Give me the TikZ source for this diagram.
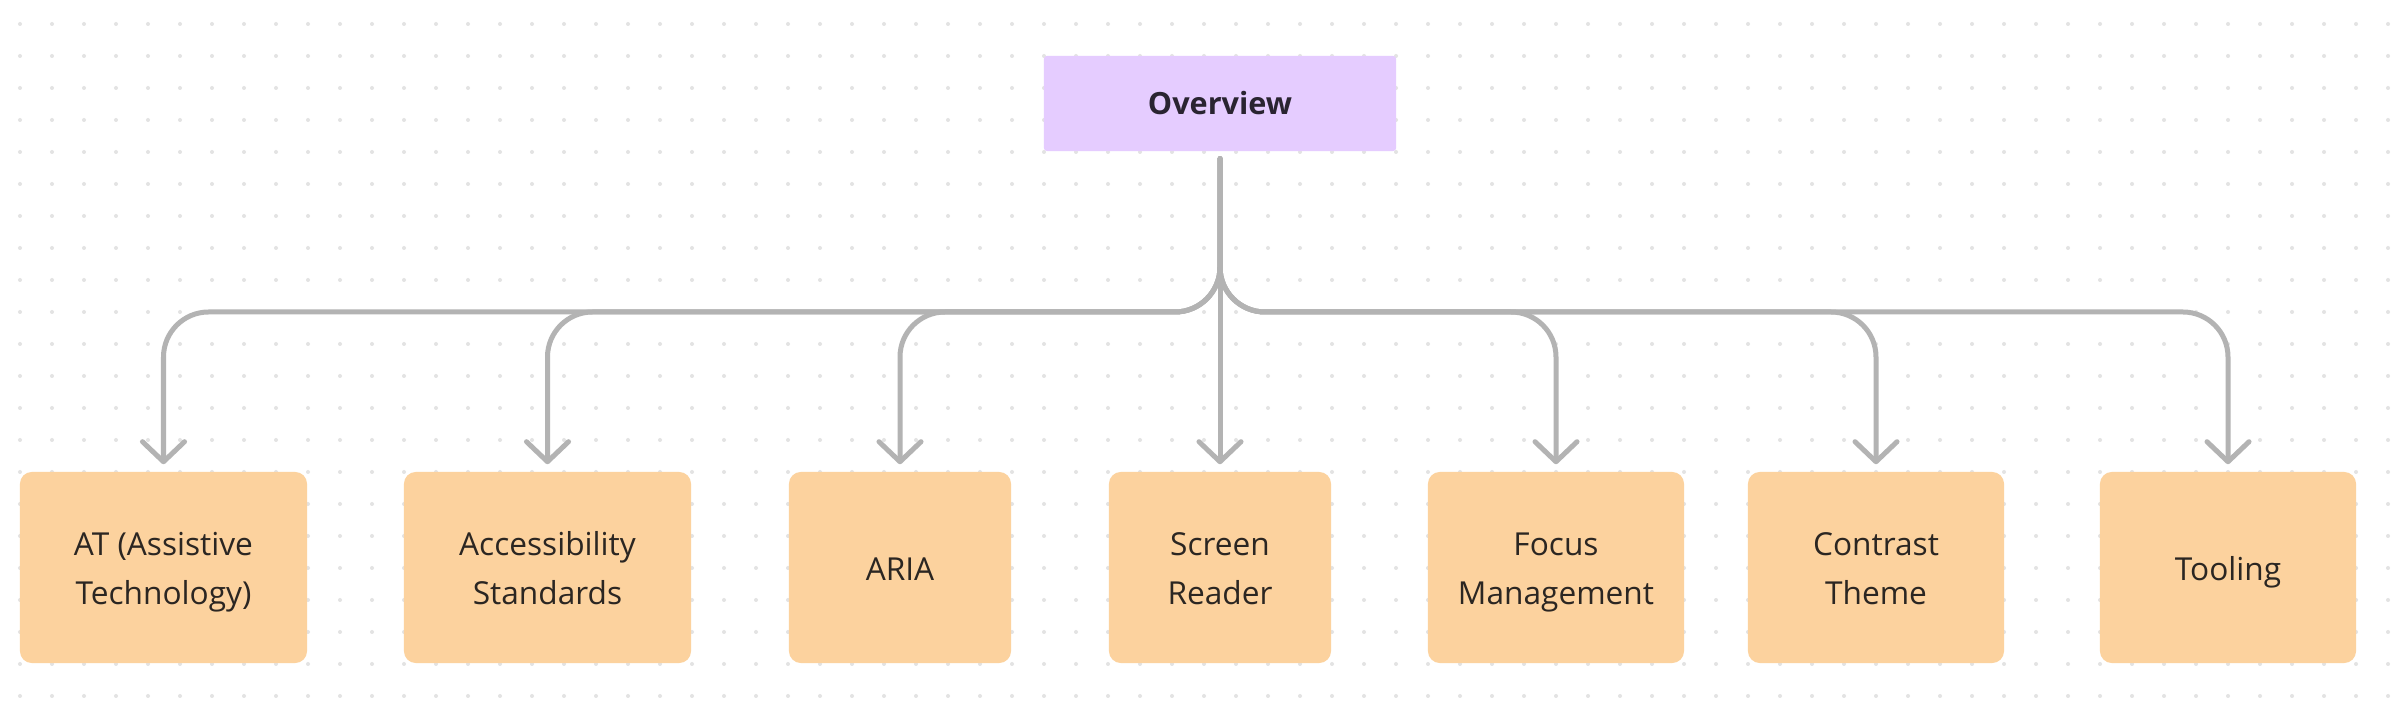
\documentclass[tikz,border=0pt]{standalone}
\usepackage{fontspec}
\setmainfont{Open Sans}
\usetikzlibrary{arrows.meta}
\definecolor{dotc}{HTML}{E3E3E3}
\definecolor{linec}{HTML}{B3B3B3}
\definecolor{boxfill}{HTML}{FCD29E}
\definecolor{ovfill}{HTML}{E5CCFF}
\definecolor{txtc}{HTML}{2B2622}
\definecolor{ovtxt}{HTML}{2A2431}
\newcommand\tstrut{\rule[-0.24\baselineskip]{0pt}{\baselineskip}}
\tikzset{
  topicbox/.style={fill=boxfill, rounded corners=0.12cm, minimum height=1.91cm,
    align=center, text=txtc, font=\fontsize{9}{13.9}\selectfont, inner sep=0pt},
  ovbox/.style={fill=ovfill, rounded corners=0.03cm, minimum width=3.52cm,
    minimum height=0.95cm, text=ovtxt, font=\fontsize{8.7}{12}\selectfont\bfseries, inner sep=0pt},
  conn/.style={draw=linec, line width=0.05cm, line cap=round, line join=round,
    rounded corners=0.45cm,
    -{Straight Barb[length=0.2cm, width=0.42cm, line cap=round, line join=round]}}
}
\begin{document}
\begin{tikzpicture}[x=0.01cm,y=-0.01cm]
\useasboundingbox[fill=white] (0,0) rectangle (2402,725);
\foreach \i in {0,...,74}{
  \foreach \j in {0,...,21}{
    \fill[dotc] (20+32*\i,24+32*\j) circle (0.02cm);
  }
}
\node[ovbox] (ov) at (1220,103.5) {Overview\tstrut};
\node[topicbox, minimum width=2.87cm] (at) at (163.5,567.5) {AT (Assistive\tstrut\\Technology)\tstrut};
\node[topicbox, minimum width=2.87cm] (as) at (547.5,567.5) {Accessibility\tstrut\\Standards\tstrut};
\node[topicbox, minimum width=2.22cm] (aria) at (900,567.5) {ARIA\tstrut};
\node[topicbox, minimum width=2.22cm] (sr) at (1220,567.5) {Screen\tstrut\\Reader\tstrut};
\node[topicbox, minimum width=2.56cm] (fm) at (1556,567.5) {Focus\tstrut\\Management\tstrut};
\node[topicbox, minimum width=2.56cm] (ct) at (1876,567.5) {Contrast\tstrut\\Theme\tstrut};
\node[topicbox, minimum width=2.56cm] (tl) at (2228,567.5) {Tooling\tstrut};
\coordinate (bus) at (1220,312);
\coordinate (ovs) at ([yshift=-0.07cm]ov.south);
\foreach \t in {at,as,aria,fm,ct,tl}{
  \draw[conn] (ovs) -- (bus) -- (\t.north |- bus) -- ([yshift=0.07cm]\t.north);
}
\draw[conn] (ovs) -- ([yshift=0.07cm]sr.north);
\end{tikzpicture}
\end{document}
